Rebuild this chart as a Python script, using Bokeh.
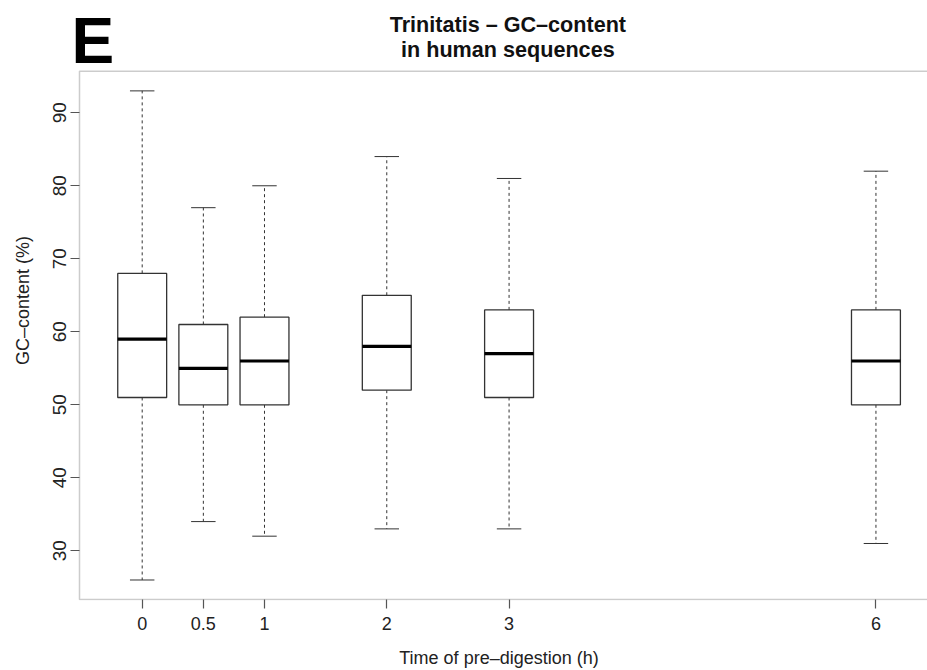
from bokeh.plotting import figure
from bokeh.models import Range1d, FixedTicker, Label, ColumnDataSource, BoxAnnotation
from bokeh.transform import dodge
from bokeh.embed import file_html
from bokeh.resources import INLINE

# ---- data ----
times = [0, 0.5, 1, 2, 3, 6]
tick_labels = ["0", "0.5", "1", "2", "3", "6"]
whisker_low = [26, 34, 32, 33, 33, 31]
q1 = [51, 50, 50, 52, 51, 50]
median = [59, 55, 56, 58, 57, 56]
q3 = [68, 61, 62, 65, 63, 63]
whisker_high = [93, 77, 80, 84, 81, 82]
y_ticks = [30, 40, 50, 60, 70, 80, 90]

FONT = "Liberation Sans"
LINE = "#333333"
FRAME = "#555555"

lo, hi = min(whisker_low), max(whisker_high)
pad = 0.04 * (hi - lo)

src = ColumnDataSource(dict(x=times, q1=q1, med=median, q3=q3,
                            lo=whisker_low, hi=whisker_high))

p = figure(width=927, height=670, output_backend="svg", toolbar_location=None,
           x_range=Range1d(-0.5863, 6.4216), y_range=Range1d(23.19, 105.38),
           min_border_left=70, min_border_right=0, min_border_top=0,
           min_border_bottom=70)
p.title.visible = False
p.outline_line_color = None
p.xgrid.visible = False
p.ygrid.visible = False
p.background_fill_color = "white"
p.border_fill_color = "white"

# x axis
xa = p.xaxis[0]
xa.ticker = FixedTicker(ticks=times)
xa.major_label_overrides = {t: lab for t, lab in zip(times, tick_labels)}
xa.major_tick_out = 8
xa.major_tick_in = 1
xa.minor_tick_out = 0
xa.minor_tick_in = 0
xa.axis_line_color = None
xa.major_tick_line_color = FRAME
xa.major_tick_line_width = 1.2
xa.major_label_text_font = FONT
xa.major_label_text_font_size = "18px"
xa.major_label_text_color = "#222222"
xa.major_label_standoff = 8
xa.axis_label = "Time of pre–digestion (h)"
xa.axis_label_text_font = FONT
xa.axis_label_text_font_size = "18px"
xa.axis_label_text_font_style = "normal"
xa.axis_label_text_color = "#222222"
xa.axis_label_standoff = 15

# y axis
ya = p.yaxis[0]
ya.ticker = FixedTicker(ticks=y_ticks)
ya.major_label_orientation = "vertical"
ya.major_tick_out = 0
ya.major_tick_in = 9
ya.minor_tick_out = 0
ya.minor_tick_in = 0
ya.axis_line_color = None
ya.major_tick_line_color = FRAME
ya.major_tick_line_width = 1.2
ya.major_label_text_font = FONT
ya.major_label_text_font_size = "19px"
ya.major_label_text_color = "#222222"
ya.major_label_standoff = 4
ya.axis_label = "GC–content (%)"
ya.axis_label_text_font = FONT
ya.axis_label_text_font_size = "18px"
ya.axis_label_text_font_style = "normal"
ya.axis_label_text_color = "#222222"
ya.axis_label_standoff = 18

# plot-region frame (open to the right, as in the cropped reference)
p.add_layout(BoxAnnotation(left=-0.5127, right=7.5, bottom=lo - pad, top=hi + pad,
                           fill_color=None, line_color=FRAME, line_width=1.5))

# whiskers
p.segment(x0="x", y0="q3", x1="x", y1="hi", source=src, line_color=LINE,
          line_width=1, line_dash="3 3")
p.segment(x0="x", y0="q1", x1="x", y1="lo", source=src, line_color=LINE,
          line_width=1, line_dash="3 3")
# boxes
p.vbar(x="x", width=0.4, bottom="q1", top="q3", source=src,
       fill_color="white", line_color=LINE, line_width=1.3)
# medians
p.segment(x0=dodge("x", -0.2), x1=dodge("x", 0.2), y0="med", y1="med",
          source=src, line_color="black", line_width=3.2, line_cap="butt")
# caps
p.segment(x0=dodge("x", -0.1), x1=dodge("x", 0.1), y0="hi", y1="hi",
          source=src, line_color=LINE, line_width=1)
p.segment(x0=dodge("x", -0.1), x1=dodge("x", 0.1), y0="lo", y1="lo",
          source=src, line_color=LINE, line_width=1)

# panel letter and title
p.add_layout(Label(x=-0.578, y=99.86, text="E", text_font=FONT,
                   text_font_size="64px", text_font_style="bold",
                   text_align="left", text_baseline="alphabetic",
                   text_color="black"))
p.add_layout(Label(x=2.99, y=102.15, text="Trinitatis – GC–content",
                   text_font=FONT, text_font_size="21.6px",
                   text_font_style="bold", text_align="center",
                   text_baseline="alphabetic", text_color="#111111"))
p.add_layout(Label(x=2.99, y=98.73, text="in human sequences",
                   text_font=FONT, text_font_size="21.6px",
                   text_font_style="bold", text_align="center",
                   text_baseline="alphabetic", text_color="#111111"))

open("out.html", "w").write(file_html(p, INLINE))
